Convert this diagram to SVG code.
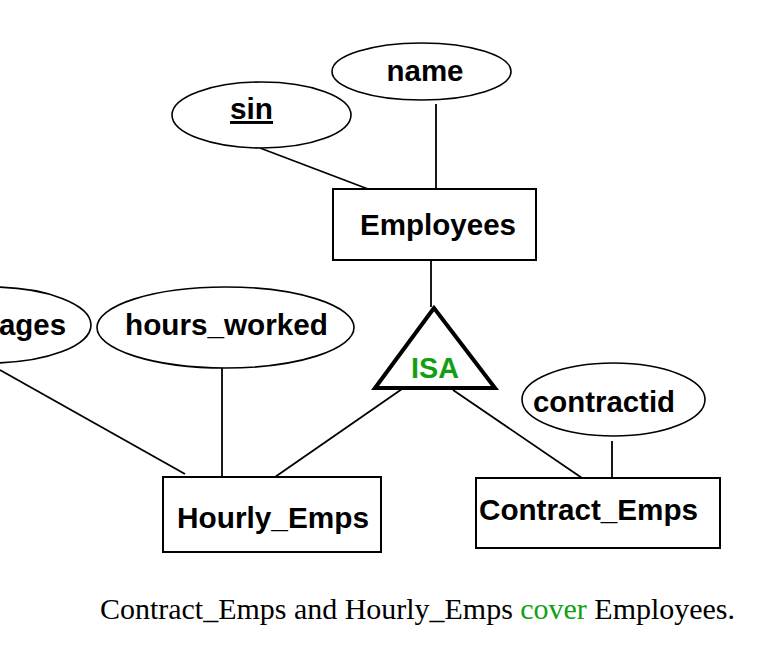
<svg xmlns="http://www.w3.org/2000/svg" width="760" height="650" viewBox="0 0 760 650">
<style>
.ent{fill:#fff;stroke:#000;stroke-width:2}
.att{fill:#fff;stroke:#000;stroke-width:1.6}
.lbl{font-family:"Liberation Sans",Arial,sans-serif;font-weight:bold;font-size:29.5px;fill:#000}
.conn line{stroke:#000;stroke-width:1.8}
.cap{font-family:"Liberation Serif","Times New Roman",serif;font-size:30px;fill:#000}
.green{fill:#12a012}
</style>
<rect width="760" height="650" fill="#fff"/>
<g class="conn" id="connectors">
<line x1="260" y1="148" x2="368" y2="189"/>
<line x1="436" y1="104" x2="436" y2="189"/>
<line x1="431" y1="260" x2="431" y2="307"/>
<line x1="0" y1="370" x2="185" y2="474"/>
<line x1="222" y1="368" x2="222" y2="477"/>
<line x1="402" y1="389" x2="275" y2="477"/>
<line x1="453" y1="390" x2="582" y2="478"/>
<line x1="612" y1="441" x2="612" y2="478"/>
</g>
<g id="name">
<ellipse class="att" cx="421.5" cy="71.5" rx="89.5" ry="28.5"/>
<text class="lbl" x="425" y="81" text-anchor="middle" textLength="77" lengthAdjust="spacingAndGlyphs">name</text>
</g>
<g id="sin">
<ellipse class="att" cx="261.5" cy="115" rx="89.5" ry="33"/>
<text class="lbl" x="251.5" y="119" text-anchor="middle" textLength="43" lengthAdjust="spacingAndGlyphs" text-decoration="underline">sin</text>
</g>
<g id="employees">
<rect class="ent" x="333" y="189" width="203" height="71"/>
<text class="lbl" x="438" y="235" text-anchor="middle" textLength="156" lengthAdjust="spacingAndGlyphs">Employees</text>
</g>
<g id="wages">
<ellipse class="att" cx="-10" cy="325" rx="101" ry="38"/>
<text class="lbl" x="66" y="335" text-anchor="end" textLength="90" lengthAdjust="spacingAndGlyphs">wages</text>
</g>
<g id="hours_worked">
<ellipse class="att" cx="225.5" cy="327.5" rx="128.5" ry="40.5"/>
<text class="lbl" x="226.5" y="335" text-anchor="middle" textLength="203" lengthAdjust="spacingAndGlyphs">hours_worked</text>
</g>
<g id="isa">
<polygon points="434,308 375,388 495,388" fill="#fff" stroke="#000" stroke-width="4" stroke-linejoin="miter"/>
<text class="lbl green" x="435" y="378" text-anchor="middle" textLength="48" lengthAdjust="spacingAndGlyphs">ISA</text>
</g>
<g id="contractid">
<ellipse class="att" cx="613.5" cy="399.5" rx="91.5" ry="36.5"/>
<text class="lbl" x="604" y="412" text-anchor="middle" textLength="142" lengthAdjust="spacingAndGlyphs">contractid</text>
</g>
<g id="hourly_emps">
<rect class="ent" x="163" y="477" width="218" height="75"/>
<text class="lbl" x="273" y="528" text-anchor="middle" textLength="192" lengthAdjust="spacingAndGlyphs">Hourly_Emps</text>
</g>
<g id="contract_emps">
<rect class="ent" x="476" y="478" width="244" height="70"/>
<text class="lbl" x="588.5" y="520" text-anchor="middle" textLength="219" lengthAdjust="spacingAndGlyphs">Contract_Emps</text>
</g>
<g id="caption">
<text class="cap" x="100" y="619" textLength="635" lengthAdjust="spacingAndGlyphs">Contract_Emps and Hourly_Emps <tspan class="green">cover</tspan> Employees.</text>
</g>
</svg>
